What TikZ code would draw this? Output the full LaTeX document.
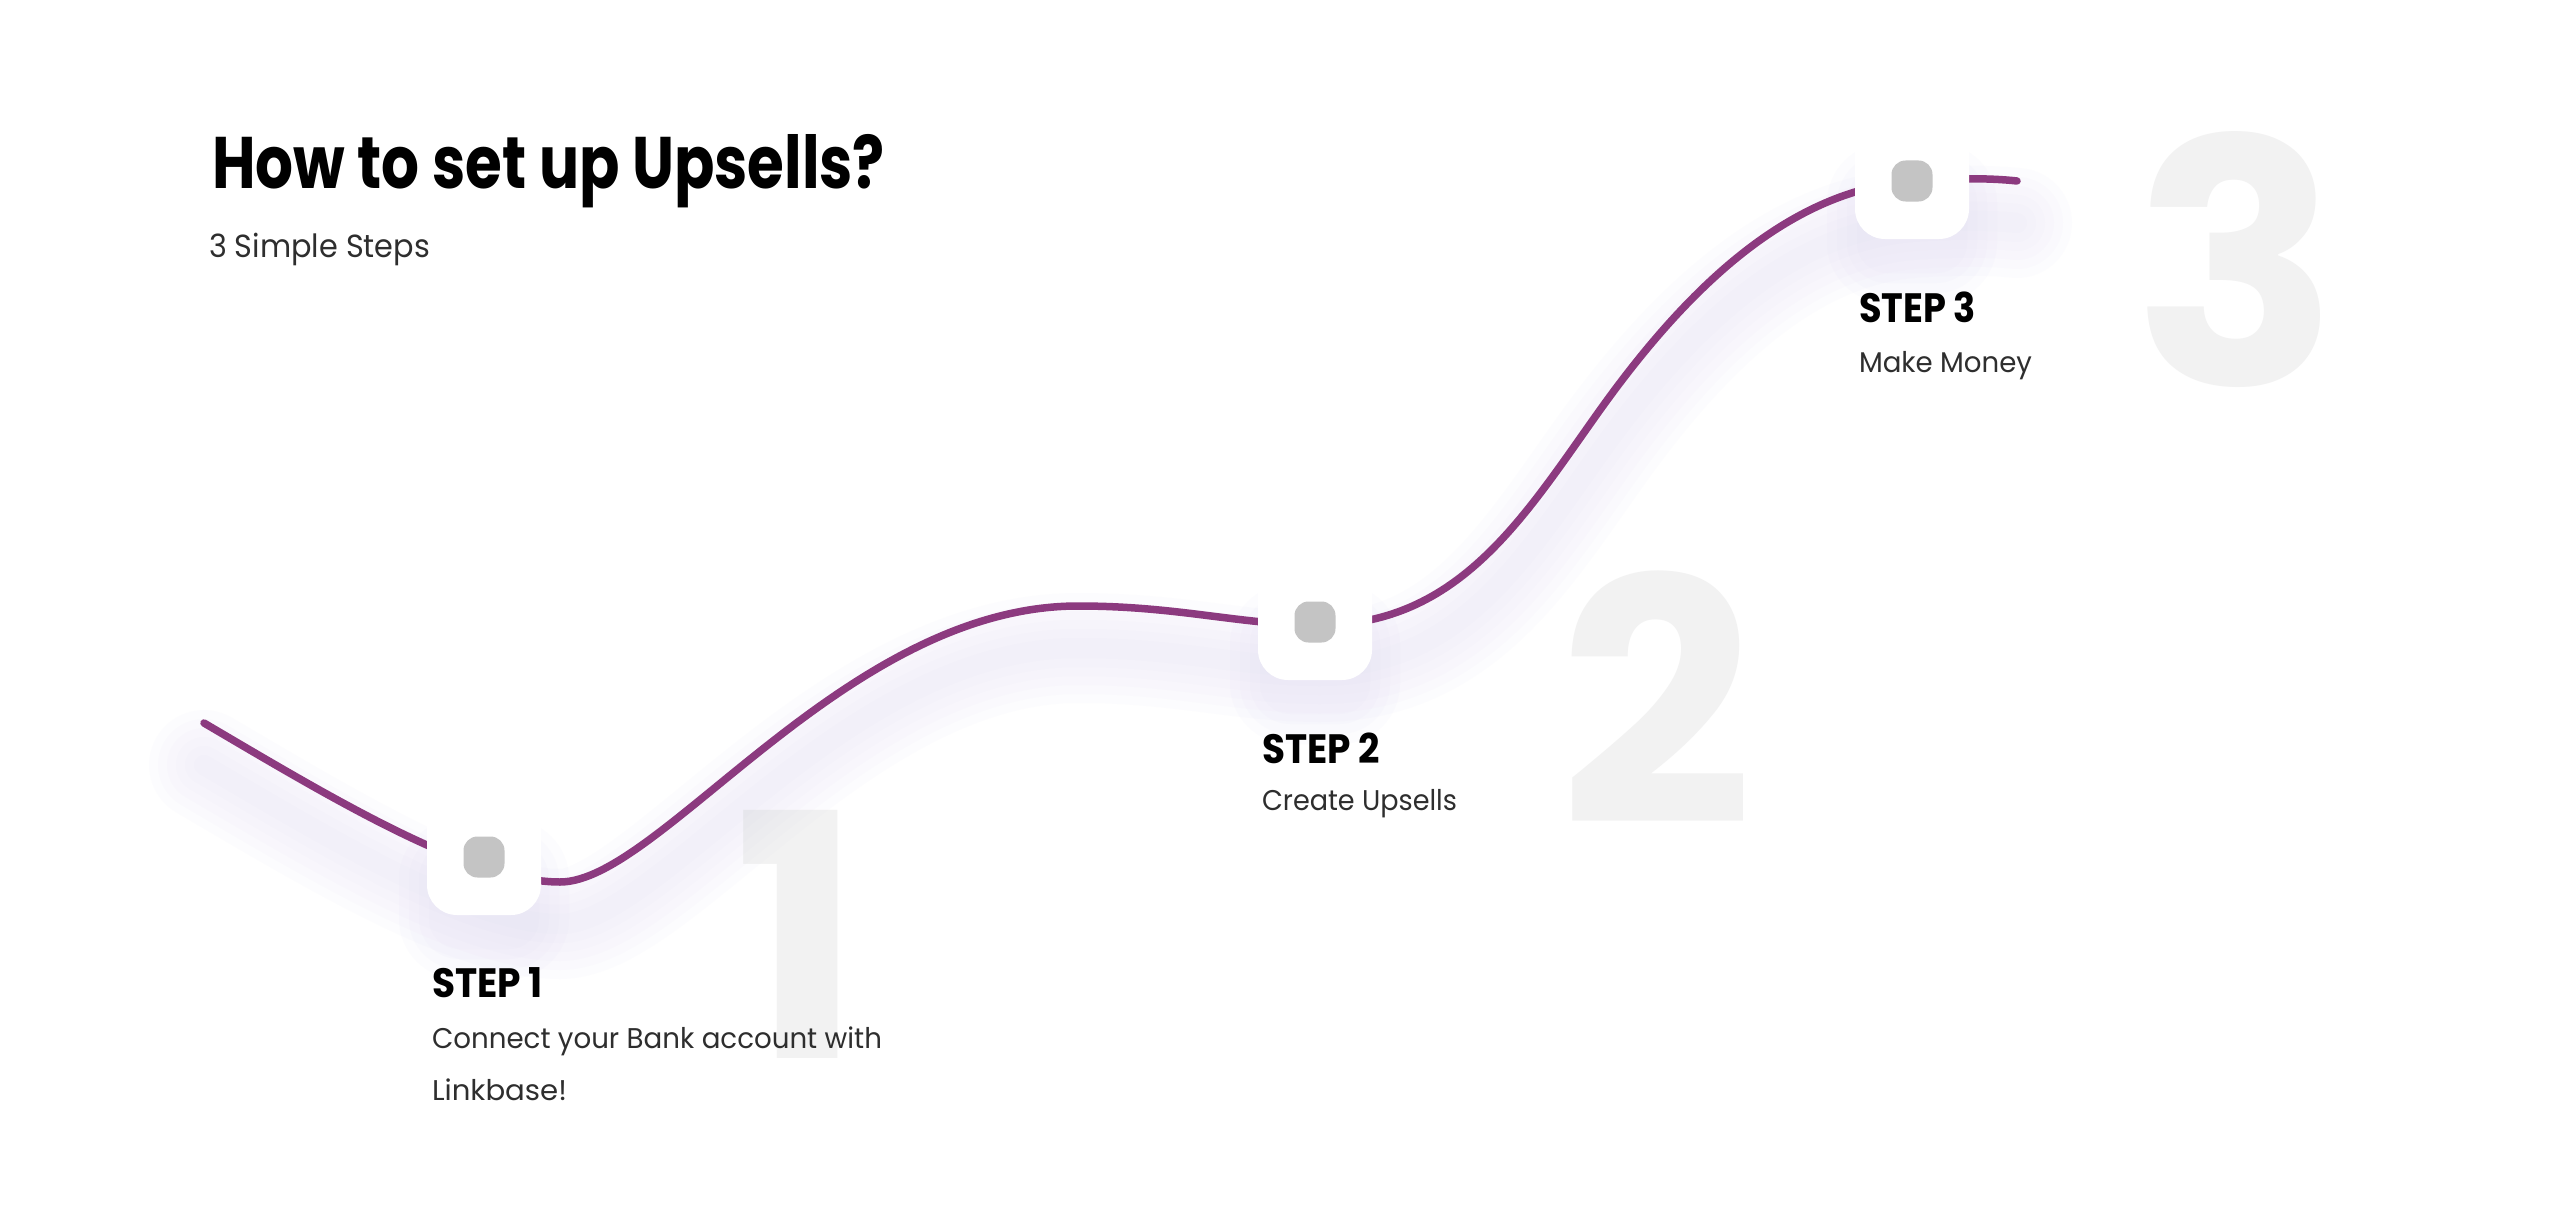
\documentclass[tikz,border=0pt]{standalone}
\usepackage{fontspec}
\setmainfont{Poppins}
\usepackage{graphicx}
\definecolor{curvec}{HTML}{8C3A7F}
\definecolor{bignum}{HTML}{F2F2F2}
\definecolor{dotgray}{HTML}{C4C4C4}
\definecolor{bodytext}{HTML}{2E2E2E}
\definecolor{shadowc}{HTML}{C9C3E8}
\newcommand\fitto[2]{\resizebox{#1}{\height}{#2}}
\newcommand\curvepath{(204,723) .. controls (330,797) and (470,882) .. (560,882)
  .. controls (660,882) and (845,606) .. (1078,606)
  .. controls (1180,606) and (1240,625) .. (1320,625)
  .. controls (1460,625) and (1525,515) .. (1600,410)
  .. controls (1700,270) and (1800,190) .. (1912,181)
  .. controls (1952,178) and (1990,178) .. (2017,181)}
\tikzset{
  lbl/.style={anchor=base west, inner sep=0pt, outer sep=0pt},
  titletext/.style={lbl, text=black, font=\fontsize{73}{80}\selectfont\bfseries},
  subtext/.style={lbl, text=bodytext, font=\fontsize{32}{40}\selectfont},
  steplbl/.style={lbl, text=black, font=\fontsize{41}{48}\selectfont\bfseries},
  desc/.style={lbl, text=bodytext, font=\fontsize{28.5}{36}\selectfont},
  bignumber/.style={anchor=base, inner sep=0pt, outer sep=0pt, text=bignum, font=\fontsize{340}{350}\selectfont\bfseries},
  stepbox/.style={fill=white, rounded corners=30pt, minimum width=114pt, minimum height=116pt, inner sep=0pt},
  stepdot/.style={fill=dotgray, rounded corners=14pt, minimum width=41pt, minimum height=41pt, inner sep=0pt},
  curveline/.style={draw=curvec, line width=7.5pt, line cap=round},
}
\begin{document}
\begin{tikzpicture}[x=1pt,y=-1pt]
\useasboundingbox[fill=white] (0,0) rectangle (2560,1228);

% big background numbers
\node[bignumber] (n1) at (798,1058) {1};
\node[bignumber] (n2) at (1657,824) {2};
\node[bignumber] (n3) at (2236,385) {3};

% soft shadow of the curve
\begin{scope}[transform canvas={yshift=-42pt}]
  \foreach \w in {110,92,74,56,38,20}
    \draw[shadowc, line width=\w pt, opacity=0.04, line cap=round] \curvepath;
\end{scope}

% soft shadows of the step boxes
\foreach \cx/\cy in {484/857, 1315/622, 1912/181}{
  \begin{scope}[shift={(\cx,\cy+42)}]
    \foreach \e in {30,20,10,0}
      \fill[shadowc, opacity=0.045, rounded corners=30pt+\e pt] (-55-\e,-50-\e) rectangle (55+\e,50+\e);
  \end{scope}
}

% the curve
\draw[curveline] \curvepath;

% step markers
\node[stepbox] (b1) at (484,857) {};
\node[stepdot] (d1) at (b1.center) {};
\node[stepbox] (b2) at (1315,622) {};
\node[stepdot] (d2) at (b2.center) {};
\node[stepbox] (b3) at (1912,181) {};
\node[stepdot] (d3) at (b3.center) {};

% title
\node[titletext] (title) at (212,188) {\fitto{673pt}{How to set up Upsells?}};
\node[subtext] (sub) at (209,257) {\fitto{221pt}{3 Simple Steps}};

% step texts
\node[steplbl] (s1) at (432,997) {\fitto{111pt}{STEP 1}};
\node[desc] (s1a) at (432,1048) {\fitto{450pt}{Connect your Bank account with}};
\node[desc] (s1b) at (432,1100) {\fitto{135pt}{Linkbase!}};

\node[steplbl] (s2) at (1262,763) {\fitto{118pt}{STEP 2}};
\node[desc] (s2a) at (1262,810) {\fitto{195pt}{Create Upsells}};

\node[steplbl] (s3) at (1859,322) {\fitto{117pt}{STEP 3}};
\node[desc] (s3a) at (1859,372) {\fitto{173pt}{Make Money}};
\end{tikzpicture}
\end{document}
